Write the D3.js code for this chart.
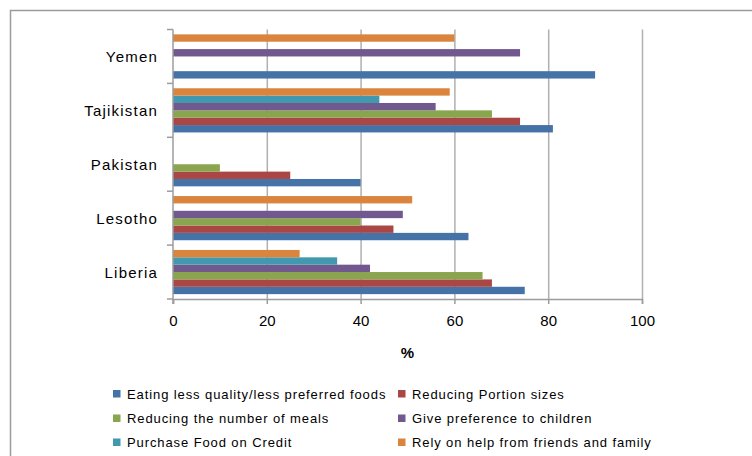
<!DOCTYPE html>
<html><head><meta charset="utf-8">
<script src="https://cdn.jsdelivr.net/npm/d3@7"></script>
<style>
html,body{margin:0;padding:0;background:#fff;}
svg{display:block;}
text{font-family:"Liberation Sans",Arial,sans-serif;fill:#000;}
</style></head>
<body>
<svg id="chart" width="752" height="456"></svg>
<script>
const categories = ["Yemen","Tajikistan","Pakistan","Lesotho","Liberia"];
const seriesNames = [
  "Eating less quality/less preferred foods",
  "Reducing Portion sizes",
  "Reducing the number of meals",
  "Give preference to children",
  "Purchase Food on Credit",
  "Rely on help from friends and family"
];
const seriesColors = ["#4572A7","#AA4643","#89A54E","#71588F","#4198AF","#DB843D"];
// values per series, in category order: Yemen, Tajikistan, Pakistan, Lesotho, Liberia
const eatingLess   = [90, 81, 40, 63, 75];
const portionSizes = [null, 74, 25, 47, 68];
const fewerMeals   = [null, 68, 10, 40, 66];
const preferChild  = [74, 56, null, 49, 42];
const creditFood   = [null, 44, null, null, 35];
const relyOnHelp   = [60, 59, null, 51, 27];
const seriesValues = [eatingLess, portionSizes, fewerMeals, preferChild, creditFood, relyOnHelp];
const xTicks = [0, 20, 40, 60, 80, 100];
const xTitle = "%";

const svg = d3.select("#chart");

// outer chart border
svg.append("path")
  .attr("d","M10.5,460 L10.5,10.5 L760,10.5")
  .attr("fill","none").attr("stroke","#9c9c9c").attr("stroke-width",1.5);

const x = d3.scaleLinear().domain([0,100]).range([173,642]);
const y = d3.scaleBand().domain(categories).range([29.5,299]).padding(0);
const inner = d3.scaleBand().domain(d3.range(seriesNames.length).reverse())
  .range([0,y.bandwidth()]).paddingInner(0).paddingOuter(0.66);

// gridlines
svg.append("g").selectAll("line").data(xTicks.filter(d=>d>0)).join("line")
  .attr("x1",d=>x(d)+0.5).attr("x2",d=>x(d)+0.5)
  .attr("y1",y.range()[0]).attr("y2",y.range()[1])
  .attr("stroke","#b0b0b0").attr("stroke-width",1.5);

// bars
const rows = [];
seriesValues.forEach((vals,si)=>vals.forEach((v,ci)=>{ if(v!=null) rows.push({si,ci,v}); }));
svg.append("g").selectAll("rect").data(rows).join("rect")
  .attr("x",x(0))
  .attr("y",d=>y(categories[d.ci])+inner(d.si))
  .attr("width",d=>x(d.v)-x(0))
  .attr("height",inner.bandwidth())
  .attr("fill",d=>seriesColors[d.si]);

// x axis
const xAxis = d3.axisBottom(x).tickValues(xTicks).tickSize(5).tickPadding(11);
const gx = svg.append("g").attr("transform",`translate(0,${y.range()[1]})`).call(xAxis);
gx.select(".domain").attr("stroke","#9c9c9c").attr("stroke-width",1.5);
gx.selectAll(".tick line").attr("stroke","#9c9c9c").attr("stroke-width",1.5);
gx.selectAll(".tick text").attr("font-size",15).attr("font-family","Liberation Sans, Arial, sans-serif").attr("fill","#000");

// y axis (category boundaries ticks)
svg.append("line").attr("x1",x(0)).attr("x2",x(0)).attr("y1",y.range()[0]).attr("y2",y.range()[1]+5)
  .attr("stroke","#9c9c9c").attr("stroke-width",1.5);
const bounds = categories.map(c=>y(c)).concat([y.range()[1]]);
svg.append("g").selectAll("line").data(bounds).join("line")
  .attr("x1",x(0)-6).attr("x2",x(0)).attr("y1",d=>d).attr("y2",d=>d)
  .attr("stroke","#9c9c9c").attr("stroke-width",1.5);
svg.append("g").selectAll("text").data(categories).join("text")
  .attr("x",x(0)-15).attr("y",d=>y(d)+y.bandwidth()/2)
  .attr("text-anchor","end").attr("dominant-baseline","central")
  .attr("font-size",15).attr("letter-spacing",1.2)
  .text(d=>d);

// x title
svg.append("text").attr("x",(x(0)+x(100))/2).attr("y",358)
  .attr("text-anchor","middle").attr("font-size",15).attr("font-weight","bold").text(xTitle);

// legend
const legCols = [113, 398];
const legRows = [394, 418.5, 442.5];
const lg = svg.append("g").selectAll("g").data(seriesNames).join("g")
  .attr("transform",(d,i)=>`translate(${legCols[i%2]},${legRows[Math.floor(i/2)]})`);
lg.append("rect").attr("x",0).attr("y",-4).attr("width",7.5).attr("height",7.5)
  .attr("fill",(d,i)=>seriesColors[i]);
lg.append("text").attr("x",14).attr("y",0).attr("dominant-baseline","central")
  .attr("font-size",13).attr("letter-spacing",0.9).text(d=>d);
</script>
</body></html>
